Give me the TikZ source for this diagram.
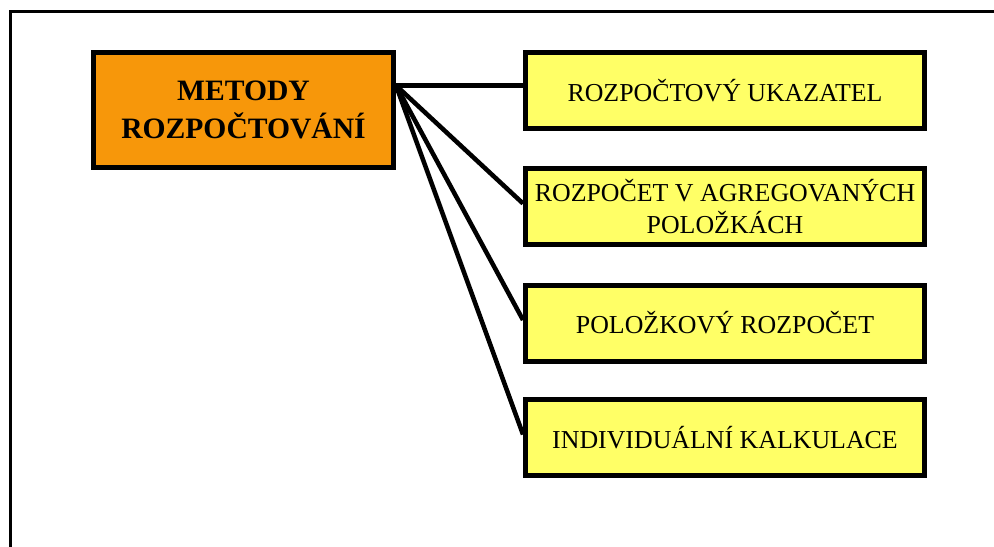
\documentclass[tikz,border=0pt]{standalone}
\usepackage{fontspec}
\setmainfont{Liberation Serif}
\definecolor{boxorange}{RGB}{247,151,10}
\definecolor{boxyellow}{RGB}{255,255,102}
\begin{document}
\begin{tikzpicture}[x=0.75pt,y=-0.75pt,
  mainbox/.style={draw=black,line width=3.75pt,fill=boxorange,rectangle,
    minimum width=225pt,minimum height=86.25pt,inner sep=0pt,align=center,
    font=\fontsize{22.2}{28}\selectfont\bfseries},
  leafbox/.style={draw=black,line width=3.75pt,fill=boxyellow,rectangle,
    minimum width=299.25pt,minimum height=57pt,inner sep=0pt,align=center,
    font=\fontsize{19.4}{24.5}\selectfont},
  link/.style={line width=3.4pt}]
\useasboundingbox (0,0) rectangle (994,546);
\clip (0,0) rectangle (994,546);
\fill[white] (0,0) rectangle (994,546);
\draw[line width=2.25pt] (10.5,11) rectangle (1020,580);
\node[mainbox] (main) at (243.5,110) {METODY\\ROZPOČTOVÁNÍ};
\node[leafbox] (b1) at (725,90.5) {ROZPOČTOVÝ UKAZATEL};
\node[leafbox] (b2) at (725,206.5) {ROZPOČET V AGREGOVANÝCH\\POLOŽKÁCH};
\node[leafbox] (b3) at (725,323) {POLOŽKOVÝ ROZPOČET};
\node[leafbox] (b4) at (725,437.5) {INDIVIDUÁLNÍ KALKULACE};
\coordinate (hub) at ([yshift=-26.6pt]main.north east);
\draw[link] (hub) -- (b1.west |- hub);
\draw[link] (hub) -- ([yshift=2.25pt]b2.west);
\draw[link] (hub) -- ([yshift=2.25pt]b3.west);
\draw[link] (hub) -- ([yshift=2.25pt]b4.west);
\end{tikzpicture}
\end{document}
